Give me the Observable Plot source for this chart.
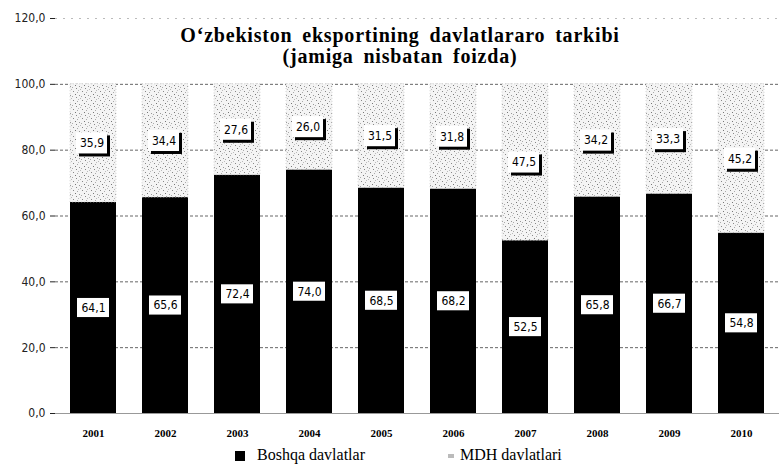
<!DOCTYPE html>
<html>
<head>
<meta charset="utf-8">
<script src="https://cdn.jsdelivr.net/npm/d3@7"></script>
<script src="https://cdn.jsdelivr.net/npm/@observablehq/plot@0.6"></script>
<style>
  body { margin: 0; background: #fff; }
  #wrap { position: relative; width: 779px; height: 466px; overflow: hidden; background: #fff; }
  #chart { position: absolute; left: 0; top: 0; }
  #title { position: absolute; left: 0; top: 25px; width: 800px; text-align: center;
    font: bold 20px "Liberation Serif", serif; letter-spacing: 0.8px; word-spacing: 4px;
    line-height: 21px; color: #000; }
  #legend { position: absolute; top: 446px; left: 0; width: 779px; height: 22px;
    font: 16px "Liberation Serif", serif; color: #000; }
  .item { position: absolute; top: 0; white-space: nowrap; }
  .sw { display: inline-block; vertical-align: middle; margin-right: 12px; }
</style>
</head>
<body>
<svg width="0" height="0" style="position:absolute">
  <defs>
    <pattern id="stipple" width="9" height="9" patternUnits="userSpaceOnUse">
      <rect width="9" height="9" fill="#f4f4f4"/>
      <rect x="1" y="1" width="1" height="1" fill="#888"/>
      <rect x="5" y="2" width="1" height="1" fill="#aaa"/>
      <rect x="3" y="4" width="1" height="1" fill="#777"/>
      <rect x="7" y="5" width="1" height="1" fill="#999"/>
      <rect x="0" y="6" width="1" height="1" fill="#aaa"/>
      <rect x="4" y="7" width="1" height="1" fill="#888"/>
      <rect x="8" y="8" width="1" height="1" fill="#bbb"/>
      <rect x="6" y="0" width="1" height="1" fill="#bbb"/>
    </pattern>
  </defs>
</svg>
<div id="wrap">
  <div id="chart"></div>
  <div id="title">O‘zbekiston eksportining davlatlararo tarkibi<br>(jamiga nisbatan foizda)</div>
  <div id="legend">
    <div class="item" style="left:235px;"><span class="sw" style="width:10px;height:10px;background:#000;"></span>Boshqa davlatlar</div>
    <div class="item" style="left:448px;"><span class="sw" style="width:6px;height:4px;background:#bbb;margin-right:6px;"></span>MDH davlatlari</div>
  </div>
</div>
<script>
const years = ["2001","2002","2003","2004","2005","2006","2007","2008","2009","2010"];
const boshqa = [64.1, 65.6, 72.4, 74.0, 68.5, 68.2, 52.5, 65.8, 66.7, 54.8];
const mdh = [35.9, 34.4, 27.6, 26.0, 31.5, 31.8, 47.5, 34.2, 33.3, 45.2];
const yTicks = [0, 20, 40, 60, 80, 100, 120];
const yTickLabels = ["0,0", "20,0", "40,0", "60,0", "80,0", "100,0", "120,0"];
const seriesNames = ["Boshqa davlatlar", "MDH davlatlari"];

const fmt = v => v.toFixed(1).replace(".", ",");
const rowsB = years.map((y, i) => ({year: y, y1: 0, y2: boshqa[i], mid: boshqa[i] / 2, value: boshqa[i]}));
const rowsM = years.map((y, i) => ({year: y, y1: boshqa[i], y2: boshqa[i] + mdh[i], mid: boshqa[i] + mdh[i] / 2, value: mdh[i]}));

const chart = Plot.plot({
  width: 779,
  height: 440,
  marginLeft: 55,
  marginRight: 0,
  marginTop: 18,
  marginBottom: 27,
  style: {background: "transparent"},
  x: {type: "band", domain: years, paddingInner: 0.36, paddingOuter: 0.18, axis: null, label: null},
  y: {domain: [0, 120], axis: null, label: null},
  marks: [
    Plot.ruleY(yTicks.filter(d => d > 0 && d < 120), {stroke: "#666", strokeDasharray: "3,2", strokeWidth: 1}),
    Plot.ruleY([120], {stroke: "#bbb", strokeDasharray: "2,6", strokeWidth: 1}),
    Plot.ruleY([0], {stroke: "#999", strokeWidth: 1}),
    Plot.axisY({ticks: yTicks, tickFormat: d => yTickLabels[yTicks.indexOf(d)], tickSize: 5, tickPadding: 5,
      fontSize: 12, fontFamily: "DejaVu Sans Condensed, sans-serif", color: "#222", label: null}),
    Plot.axisX({tickSize: 0, tickPadding: 16, fontSize: 11, fontWeight: "bold",
      fontFamily: "Liberation Serif, serif", color: "#000", label: null}),
    Plot.barY(rowsB, {x: "year", y1: "y1", y2: "y2", fill: "#000"}),
    Plot.barY(rowsM, {x: "year", y1: "y1", y2: "y2", fill: "url(#stipple)", stroke: "#ccc", strokeWidth: 0.8, strokeDasharray: "1,2"}),
    Plot.rect(rowsB, {x: "year", y1: d => d.mid - 2.9, y2: d => d.mid + 2.9, fill: "#fff", insetLeft: 7, insetRight: 7}),
    Plot.text(rowsB, {x: "year", y: "mid", text: d => fmt(d.value), fill: "#000", fontSize: 12,
      fontFamily: "DejaVu Sans Condensed, sans-serif"}),
    Plot.rect(rowsM, {x: "year", y1: d => d.mid - 3.2, y2: d => d.mid + 3.2, fill: "#000", insetLeft: 6, insetRight: 9, dx: 3, dy: 3}),
    Plot.rect(rowsM, {x: "year", y1: d => d.mid - 3.2, y2: d => d.mid + 3.2, fill: "#fff", insetLeft: 6, insetRight: 9}),
    Plot.text(rowsM, {x: "year", y: "mid", dx: -1.5, text: d => fmt(d.value), fill: "#000", fontSize: 12,
      fontFamily: "DejaVu Sans Condensed, sans-serif"})
  ]
});
document.getElementById("chart").appendChild(chart);
</script>
</body>
</html>
